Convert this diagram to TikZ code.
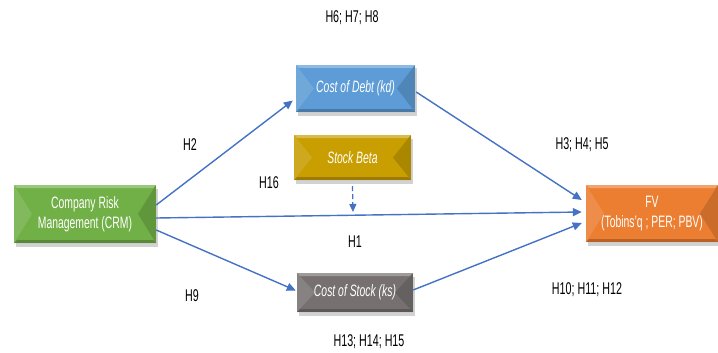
\documentclass[tikz,border=0pt]{standalone}
\usepackage{fontspec}
\setmainfont{Liberation Sans}[FakeStretch=0.63]
\newfontfamily\labelfont{Liberation Sans}[FakeStretch=0.63]
\usetikzlibrary{shadows,arrows.meta,calc}

\definecolor{crmgreen}{RGB}{112,176,70}
\definecolor{debtblue}{RGB}{93,156,214}
\definecolor{betagold}{RGB}{200,158,0}
\definecolor{stockgray}{RGB}{118,113,112}
\definecolor{fvorange}{RGB}{236,126,50}
\definecolor{linkblue}{RGB}{68,114,196}

\tikzset{
  bevelbox/.style={
    rectangle, fill=#1, draw=none, text=white, align=center,
    inner sep=0pt, font=\fontsize{16.5}{20}\selectfont,
    drop shadow={shadow xshift=1.5pt, shadow yshift=-3.5pt, opacity=0.35},
    path picture={
      \coordinate (bnw) at (path picture bounding box.north west);
      \coordinate (bne) at (path picture bounding box.north east);
      \coordinate (bsw) at (path picture bounding box.south west);
      \coordinate (bse) at (path picture bounding box.south east);
      \coordinate (bw) at (path picture bounding box.west);
      \coordinate (be) at (path picture bounding box.east);
      % top and bottom rims
      \fill[white, opacity=0.30] (bnw) -- (bne) -- ($(bne)+(-3,3)$) -- ($(bnw)+(3,3)$) -- cycle;
      \fill[black, opacity=0.22] (bsw) -- (bse) -- ($(bse)+(-3,-3)$) -- ($(bsw)+(3,-3)$) -- cycle;
      % side facets
      \fill[white, opacity=0.12] (bnw) -- ($(bw)+(18,0)$) -- (bsw) -- cycle;
      \fill[black, opacity=0.14] (bne) -- ($(be)+(-18,0)$) -- (bse) -- cycle;
    }},
  link/.style={draw=linkblue, line width=1.4pt, -{Triangle[length=9pt,width=8pt]}},
  hlabel/.style={font=\labelfont\fontsize{17}{20}\selectfont, text=black, inner sep=0pt}
}

\begin{document}
\begin{tikzpicture}[x=1pt, y=-1pt]
  \useasboundingbox[fill=white] (0,0) rectangle (718,353);

  % boxes
  \node[bevelbox=crmgreen, minimum width=142pt, minimum height=58pt] (crm) at (85,214)
    {Company Risk\\Management (CRM)};
  \node[bevelbox=debtblue, minimum width=119pt, minimum height=47pt] (debt) at (355.5,88.5)
    {\itshape Cost of Debt (kd)};
  \node[bevelbox=betagold, minimum width=117pt, minimum height=45pt] (beta) at (352.5,157.5)
    {\itshape Stock Beta};
  \node[bevelbox=stockgray, minimum width=116pt, minimum height=39pt] (stock) at (355,292.5)
    {\itshape Cost of Stock (ks)};
  \node[bevelbox=fvorange, minimum width=132pt, minimum height=57pt] (fv) at (652,213.5)
    {FV\\(Tobins'q ; PER; PBV)};

  % connectors
  \draw[link] ([yshift=9pt]crm.east) -- ([xshift=-3pt,yshift=-12pt]debt.west);
  \draw[link] ([yshift=-4pt]crm.east) -- ([xshift=-4pt,yshift=1.5pt]fv.west);
  \draw[link] ([yshift=-16pt]crm.east) -- ([xshift=-1pt,yshift=2pt]stock.west);
  \draw[link] ([xshift=1pt,yshift=-3.5pt]debt.east) -- ([xshift=-4pt,yshift=13.5pt]fv.west);
  \draw[link] ([yshift=2.5pt]stock.east) -- ([xshift=-4pt,yshift=-9.5pt]fv.west);

  \coordinate (betaend) at (353,212);
  \draw[link, dashed, dash pattern=on 5pt off 3pt, line width=1.2pt,
        -{Triangle[length=8pt,width=7pt]}] ([yshift=-6pt]beta.south) -- (betaend);

  % hypothesis labels
  \node[hlabel] (h678) at (352,18) {H6; H7; H8};
  \node[hlabel] (h2) at (190,145) {H2};
  \node[hlabel] (h16) at (269,183) {H16};
  \node[hlabel] (h1) at (355,242) {H1};
  \node[hlabel] (h9) at (192,296) {H9};
  \node[hlabel] (h131415) at (369,342) {H13; H14; H15};
  \node[hlabel] (h345) at (582,145) {H3; H4; H5};
  \node[hlabel] (h101112) at (587,290) {H10; H11; H12};
\end{tikzpicture}
\end{document}
